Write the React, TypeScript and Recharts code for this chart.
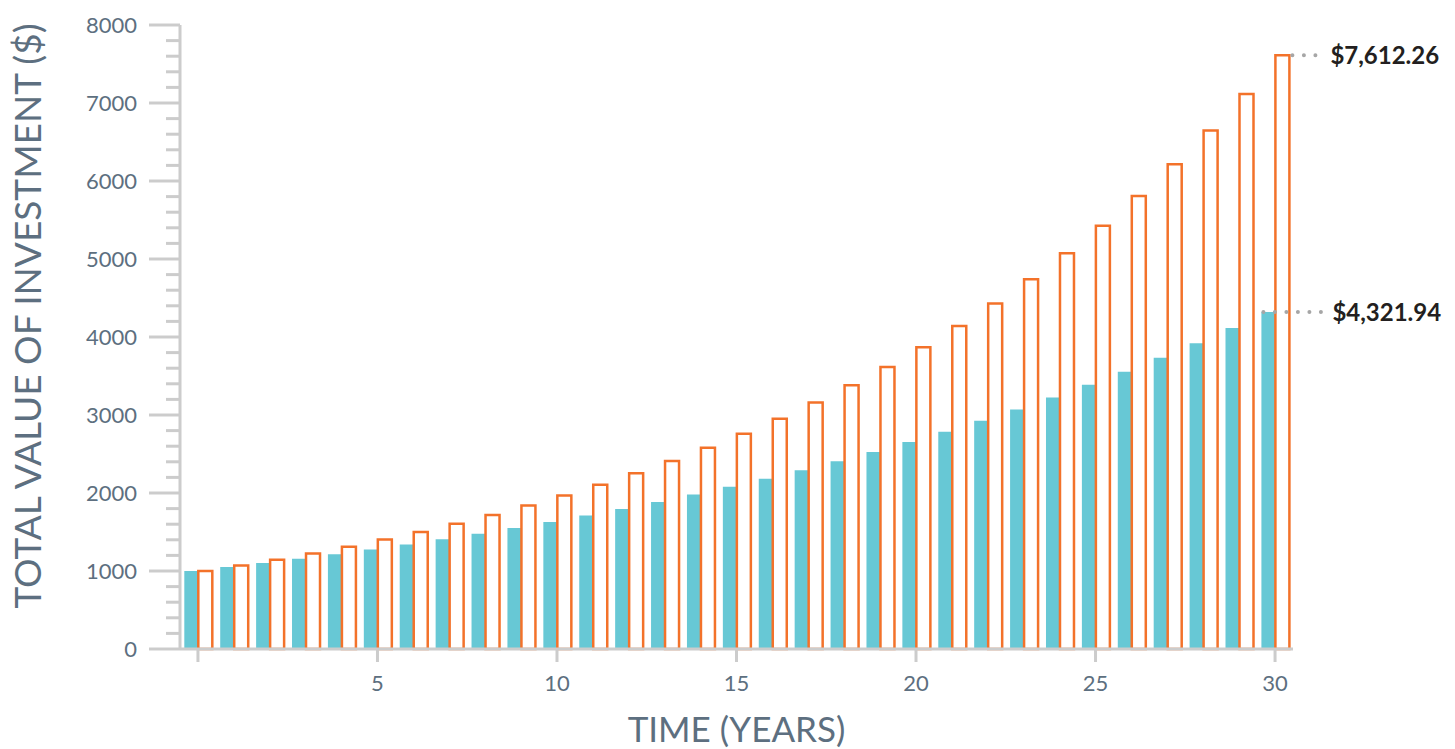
import React from "react"
import { BarChart, Bar, XAxis, YAxis, LabelList } from "recharts"

const years = [0, 1, 2, 3, 4, 5, 6, 7, 8, 9, 10, 11, 12, 13, 14, 15, 16, 17, 18, 19, 20, 21, 22, 23, 24, 25, 26, 27, 28, 29, 30]

// 5% growth
const lowRate = [
  1000, 1050, 1102.5, 1157.63, 1215.51, 1276.28, 1340.1, 1407.1, 1477.46, 1551.33, 1628.89,
  1710.34, 1795.86, 1885.65, 1979.93, 2078.93, 2182.87, 2292.02, 2406.62, 2526.95, 2653.3,
  2785.96, 2925.26, 3071.52, 3225.1, 3386.35, 3555.67, 3733.46, 3920.13, 4116.14, 4321.94,
]

// 7% growth
const highRate = [
  1000, 1070, 1144.9, 1225.04, 1310.8, 1402.55, 1500.73, 1605.78, 1718.19, 1838.46, 1967.15,
  2104.85, 2252.19, 2409.85, 2578.53, 2759.03, 2952.16, 3158.82, 3379.93, 3616.53, 3869.68,
  4140.56, 4430.4, 4740.53, 5072.37, 5427.43, 5807.35, 6213.86, 6648.84, 7114.26, 7612.26,
]

const yTicks = [
  0, 200, 400, 600, 800, 1000, 1200, 1400, 1600, 1800, 2000, 2200, 2400, 2600, 2800, 3000,
  3200, 3400, 3600, 3800, 4000, 4200, 4400, 4600, 4800, 5000, 5200, 5400, 5600, 5800, 6000,
  6200, 6400, 6600, 6800, 7000, 7200, 7400, 7600, 7800, 8000,
]

const endLabels = { low: "$4,321.94", high: "$7,612.26" }

const data = years.map((year, i) => ({ year, low: lowRate[i], high: highRate[i] }))

const FONT = "Lato, 'Noto Sans', sans-serif"
const TEXT = "#5d6f80"
const AXIS = "#cccccc"
const TEAL = "#67c8d5"
const ORANGE = "#f3722a"
const DOTS = "#a6a6a6"

function YTick(props: any) {
  const { x, y, payload } = props
  const major = payload.value % 1000 === 0
  const len = major ? 31 : 14
  return (
    <g>
      <line x1={x - len} x2={x} y1={y} y2={y} stroke={AXIS} strokeWidth={3} />
      {major && (
        <text x={x - len - 12} y={y} dy="0.36em" textAnchor="end" fill={TEXT} fontSize={22} fontFamily={FONT}>
          {payload.value}
        </text>
      )}
    </g>
  )
}

function endLabel(text: string, last: number, fromLeft: boolean) {
  return (props: any) => {
    const { x, y, width, value } = props
    if (value !== last) return null
    const x0 = fromLeft ? x : x + width + 1
    const x1 = fromLeft ? x + width * 2 + 38 : x + width + 36
    return (
      <g>
        <line x1={x0 + 2} x2={x1} y1={y} y2={y} stroke={DOTS} strokeWidth={4} strokeLinecap="round" strokeDasharray="0 11.5" />
        <text x={x1 + 5} y={y} dy="0.36em" fill="#231f20" fontSize={24} fontWeight={700} fontFamily={FONT}>
          {text}
        </text>
      </g>
    )
  }
}

export default function App() {
  return (
    <div style={{ position: "absolute", left: 0, top: 0, background: "#fff" }}>
      <BarChart
        width={1455}
        height={749}
        data={data}
        margin={{ top: 25, right: 162, left: 0, bottom: 0 }}
        barCategoryGap="12%"
        barGap={0}
      >
        <XAxis
          dataKey="year"
          interval={4}
          height={100}
          axisLine={{ stroke: AXIS, strokeWidth: 3 }}
          tickLine={{ stroke: AXIS, strokeWidth: 3 }}
          tickSize={13}
          tickMargin={13}
          tick={{ fill: TEXT, fontSize: 22, fontFamily: FONT }}
          tickFormatter={(v) => (v === 0 ? "" : String(v))}
          label={{
            content: (p: any) => (
              <text
                x={p.viewBox.x + p.viewBox.width / 2}
                y={729}
                dy="0.36em"
                textAnchor="middle"
                fill={TEXT}
                fontSize={35}
                fontFamily={FONT}
              >
                TIME (YEARS)
              </text>
            ),
          }}
        />
        <YAxis
          width={180}
          domain={[0, 8000]}
          ticks={yTicks}
          interval={0}
          axisLine={{ stroke: AXIS, strokeWidth: 3 }}
          tickLine={false}
          tickSize={0}
          tickMargin={0}
          tick={<YTick />}
          label={{
            content: (p: any) => {
              const cx = 28
              const cy = p.viewBox.y + p.viewBox.height / 2 - 21
              return (
                <text
                  x={cx}
                  y={cy}
                  dy="0.36em"
                  textAnchor="middle"
                  transform={`rotate(-90 ${cx} ${cy})`}
                  fill={TEXT}
                  fontSize={37}
                  fontFamily={FONT}
                >
                  TOTAL VALUE OF INVESTMENT ($)
                </text>
              )
            },
          }}
        />
        <Bar dataKey="low" fill={TEAL} isAnimationActive={false}>
          <LabelList dataKey="low" content={endLabel(endLabels.low, lowRate[lowRate.length - 1], true)} />
        </Bar>
        <Bar dataKey="high" fill="#ffffff" stroke={ORANGE} strokeWidth={2.5} isAnimationActive={false}>
          <LabelList dataKey="high" content={endLabel(endLabels.high, highRate[highRate.length - 1], false)} />
        </Bar>
      </BarChart>
    </div>
  )
}
